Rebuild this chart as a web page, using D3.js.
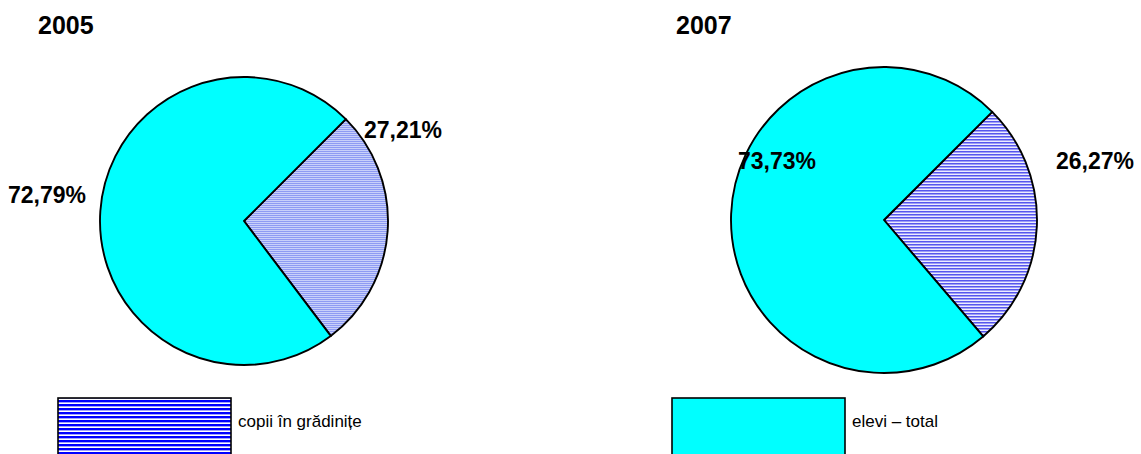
<!DOCTYPE html>
<html>
<head>
<meta charset="utf-8">
<script src="https://cdn.jsdelivr.net/npm/d3@7"></script>
<style>
  html, body { margin: 0; padding: 0; background: #fff; }
  svg { display: block; font-family: "Liberation Sans", Arial, sans-serif; }
</style>
</head>
<body>
<svg id="chart" width="1141" height="454"></svg>
<script>
// Structure of enrolment: children in kindergartens vs. pupils (%)
const years = ["2005", "2007"];
const categories = ["copii în grădinițe", "elevi – total"];
const kindergarten = [27.21, 26.27];
const pupils = [72.79, 73.73];
const labelText = v => d3.format(".2f")(v).replace(".", ",") + "%";

const svg = d3.select("#chart");
const defs = svg.append("defs");

// Striped fills (light / dark pie hatch, legend hatch)
function stripes(id, h, rows) {
  const p = defs.append("pattern").attr("id", id)
    .attr("patternUnits", "userSpaceOnUse").attr("width", 8).attr("height", h);
  rows.forEach(r => p.append("rect").attr("x", 0).attr("y", r.y).attr("width", 8)
    .attr("height", r.h).attr("fill", r.c));
}
stripes("hatch2005", 2, [{y: 0, h: 1, c: "#8e9bf3"}, {y: 1, h: 1, c: "#c8d0fa"}]);
stripes("hatch2007", 3, [{y: 0, h: 1, c: "#5656ee"}, {y: 1, h: 1, c: "#9e9ef6"}, {y: 2, h: 1, c: "#ececff"}]);
stripes("hatchLegend", 4, [{y: 0, h: 2, c: "#0000ff"}, {y: 2, h: 1, c: "#a0a0ff"}, {y: 3, h: 1, c: "#ffffff"}]);

const cyan = "#00ffff";
const panels = [
  { cx: 244, cy: 221, r: 144, titleX: 38, hatch: "url(#hatch2005)",
    labels: [{x: 364, y: 138}, {x: 8, y: 203}] },
  { cx: 884, cy: 220, r: 153, titleX: 676, hatch: "url(#hatch2007)",
    labels: [{x: 1056, y: 169}, {x: 738, y: 169}] }
];

const pie = d3.pie().sort(null).value(d => d)
  .startAngle(Math.PI / 4).endAngle(Math.PI / 4 + 2 * Math.PI);

years.forEach((year, i) => {
  const p = panels[i];
  const values = [kindergarten[i], pupils[i]];
  const arc = d3.arc().innerRadius(0).outerRadius(p.r);
  const g = svg.append("g").attr("transform", `translate(${p.cx},${p.cy})`);

  g.selectAll("path").data(pie(values)).join("path")
    .attr("d", arc)
    .attr("fill", (d, k) => k === 0 ? p.hatch : cyan)
    .attr("stroke", "#000").attr("stroke-width", 1.9)
    .attr("stroke-linejoin", "round");

  svg.append("text").attr("x", p.titleX).attr("y", 34)
    .attr("font-size", 25).attr("font-weight", "bold").text(year);

  values.forEach((v, k) => {
    svg.append("text").attr("x", p.labels[k].x).attr("y", p.labels[k].y)
      .attr("font-size", 23).attr("font-weight", "bold").text(labelText(v));
  });
});

// Legend
const legend = [
  { x: 58, fill: "url(#hatchLegend)" },
  { x: 672, fill: cyan }
];
categories.forEach((c, k) => {
  const l = legend[k];
  svg.append("rect").attr("x", l.x).attr("y", 398).attr("width", 173).attr("height", 70)
    .attr("fill", l.fill).attr("stroke", "#000").attr("stroke-width", 1.6);
  svg.append("text").attr("x", l.x + 180).attr("y", 427)
    .attr("font-size", 17).text(c);
});
</script>
</body>
</html>
